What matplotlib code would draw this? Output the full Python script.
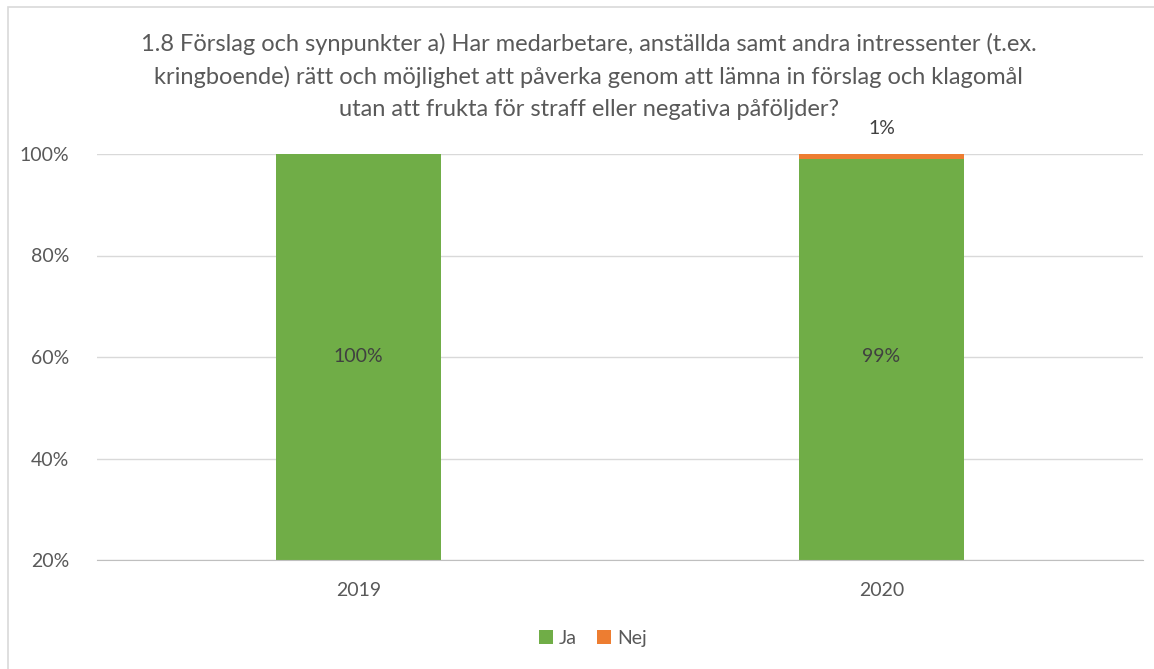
import matplotlib.pyplot as plt
import numpy as np
from matplotlib.patches import Rectangle

years = ['2019', '2020']
ja = [1.00, 0.99]
nej = [0.00, 0.01]
ja_labels = ['100%', '99%']
nej_labels = ['', '1%']
yticks = [0.2, 0.4, 0.6, 0.8, 1.0]

title = ("1.8 Förslag och synpunkter a) Har medarbetare, anställda samt andra intressenter (t.ex.\n"
         "kringboende) rätt och möjlighet att påverka genom att lämna in förslag och klagomål\n"
         "utan att frukta för straff eller negativa påföljder?")

green = '#70AD47'
orange = '#ED7D31'
txt = '#595959'

plt.rcParams['font.family'] = ['Lato', 'DejaVu Sans']

fig = plt.figure(figsize=(11.54, 6.69), dpi=100)
ax = fig.add_axes([97 / 1154, 1 - 560 / 669, 1046 / 1154, 406 / 669])

x = np.array([0.25, 0.75])
w = 0.157
ax.bar(x, ja, w, color=green, label='Ja', zorder=2)
ax.bar(x, nej, w, bottom=ja, color=orange, label='Nej', zorder=2)

for xi, lab in zip(x, ja_labels):
    ax.text(xi, 0.6, lab, ha='center', va='center', fontsize=14, color='#404040')
for xi, lab, b, n in zip(x, nej_labels, ja, nej):
    if lab:
        ax.text(xi, b + n + 0.033, lab, ha='center', va='bottom', fontsize=14, color='#404040')

ax.set_xlim(0, 1)
ax.set_ylim(0.2, 1.0)
ax.set_yticks(yticks)
ax.set_yticklabels([f'{int(round(t * 100))}%' for t in yticks])
ax.set_xticks(x)
ax.set_xticklabels(years)
ax.tick_params(axis='both', length=0, labelsize=14, labelcolor=txt)
ax.tick_params(axis='y', pad=20)
ax.tick_params(axis='x', pad=16)
ax.grid(axis='y', color='#D9D9D9', linewidth=1, zorder=0)
for s in ['top', 'right', 'left']:
    ax.spines[s].set_visible(False)
ax.spines['bottom'].set_color('#BFBFBF')

fig.text(0.51, 1 - 33 / 669, title, ha='center', va='top', fontsize=17,
         color=txt, linespacing=1.62)

ax.legend(loc='center', bbox_to_anchor=(0.474, -0.193), ncol=2, frameon=False,
          fontsize=14, handlelength=0.75, handleheight=0.75, handletextpad=0.3,
          columnspacing=1.0, labelcolor=txt)

fig.patches.append(Rectangle((8 / 1154, -0.1), 1.2, 1.1 - 7 / 669, transform=fig.transFigure,
                             fill=False, edgecolor='#D9D9D9', linewidth=1.2))

fig.savefig('out.png', dpi=100)
